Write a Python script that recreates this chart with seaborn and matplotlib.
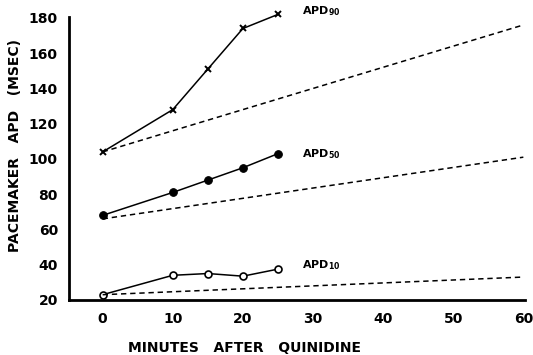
import matplotlib
matplotlib.use("Agg")
import matplotlib.pyplot as plt
import seaborn as sns
import pandas as pd
import numpy as np

minutes = [0, 10, 15, 20, 25]
apd90 = [104, 128, 151, 174, 182]
apd50 = [68, 81, 88, 95, 103]
apd10 = [23, 34, 35, 33.5, 37.5]

dash_x = [0, 60]
dash90 = [104, 176]
dash50 = [66, 101]
dash10 = [23, 33]

series_names = ["APD90", "APD50", "APD10"]
label_text = [r"APD$_{\mathbf{90}}$", r"APD$_{\mathbf{50}}$", r"APD$_{\mathbf{10}}$"]
label_pos = [(28.5, 184), (28.5, 103), (28.5, 40)]

sns.set_style("white")
plt.rcParams['font.family'] = ['DejaVu Sans']
plt.rcParams['text.color'] = 'black'
plt.rcParams['axes.labelcolor'] = 'black'
plt.rcParams['xtick.color'] = 'black'
plt.rcParams['ytick.color'] = 'black'

fig = plt.figure(figsize=(5.33, 3.55), dpi=100)
ax = fig.add_axes([0.1295, 0.155, 0.855, 0.797])

df = pd.DataFrame({
    "minutes": minutes * 3,
    "apd": apd90 + apd50 + apd10,
    "series": sum([[s] * len(minutes) for s in series_names], []),
})

for name in series_names:
    sub = df[df.series == name]
    if name == "APD10":
        sns.lineplot(data=sub, x="minutes", y="apd", ax=ax, color="black", lw=1.1,
                     marker="o", markersize=5, markerfacecolor="white",
                     markeredgecolor="black", markeredgewidth=1.2, clip_on=False)
    elif name == "APD50":
        sns.lineplot(data=sub, x="minutes", y="apd", ax=ax, color="black", lw=1.1,
                     marker="o", markersize=5.5, markerfacecolor="black",
                     markeredgecolor="black", clip_on=False)
    else:
        sns.lineplot(data=sub, x="minutes", y="apd", ax=ax, color="black", lw=1.1,
                     marker="x", markersize=5, markeredgewidth=1.4,
                     markeredgecolor="black", clip_on=False)

for d in [dash90, dash50, dash10]:
    sns.lineplot(x=dash_x, y=d, ax=ax, color="black", lw=1.1,
                 linestyle=(0, (3.5, 2.5)), clip_on=False)

for t, (x, y) in zip(label_text, label_pos):
    ax.text(x, y, t, fontsize=8, fontweight="bold", ha="left", va="center")

ax.set_xlim(-4.8, 60.2)
ax.set_ylim(20, 180.5)
ax.set_xticks([0, 10, 20, 30, 40, 50, 60])
ax.set_xticks(np.arange(0, 61, 5), minor=True)
ax.set_yticks(np.arange(20, 181, 20))

for s in ["top", "right"]:
    ax.spines[s].set_visible(False)
for s in ["left", "bottom"]:
    ax.spines[s].set_linewidth(2)
    ax.spines[s].set_color("black")

ax.tick_params(axis="x", which="both", direction="in", length=4, width=1.2,
               labelsize=10, pad=9)
ax.tick_params(axis="y", which="both", direction="in", length=3, width=1.2,
               labelsize=10, pad=8)
for lab in ax.get_xticklabels() + ax.get_yticklabels():
    lab.set_fontweight("bold")

ax.set_xlabel("MINUTES   AFTER   QUINIDINE", fontsize=10, fontweight="bold",
              va="center", ha="center")
ax.set_ylabel("PACEMAKER   APD   (MSEC)", fontsize=10, fontweight="bold",
              va="center", ha="center")
ax.xaxis.set_label_coords(0.386, -0.17)
ax.yaxis.set_label_coords(-0.118, 0.545)

fig.savefig("out.png", dpi=100)
